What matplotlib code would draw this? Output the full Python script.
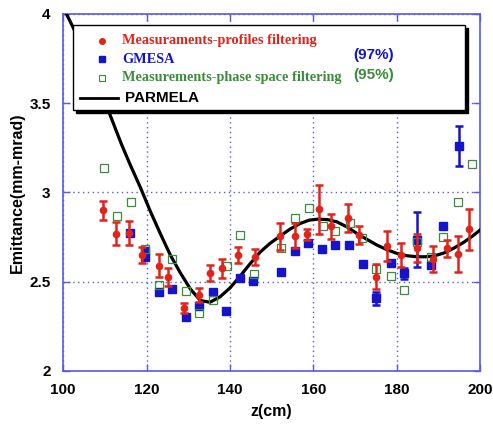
import numpy as np
import matplotlib.pyplot as plt
from matplotlib.patches import Rectangle

# profiles filtering (red, with error bars)
z_prof = [109.5, 112.7, 115.8, 119.0, 122.9, 125.1, 128.9, 132.5, 135.3, 138.0,
          141.9, 146.1, 152.1, 155.5, 158.4, 161.4, 164.3, 168.3, 171.0, 175.0,
          177.7, 181.1, 184.8, 188.7, 192.0, 194.6, 197.2]
e_prof = [2.90, 2.77, 2.775, 2.648, 2.59, 2.525, 2.353, 2.424, 2.549, 2.575,
          2.65, 2.637, 2.755, 2.758, 2.766, 2.906, 2.812, 2.857, 2.764, 2.527,
          2.70, 2.65, 2.69, 2.629, 2.687, 2.654, 2.794]
err_prof = [0.055, 0.062, 0.068, 0.045, 0.065, 0.05, 0.03, 0.04, 0.045, 0.055,
            0.045, 0.045, 0.075, 0.07, 0.03, 0.137, 0.07, 0.078, 0.05, 0.07,
            0.085, 0.065, 0.08, 0.072, 0.047, 0.10, 0.114]

# GMESA (blue squares)
z_gm = [116.1, 119.6, 119.6, 122.9, 126.1, 129.4, 132.5, 135.9, 139.0, 142.5,
        145.6, 152.2, 155.5, 158.8, 162.0, 165.2, 168.5, 172.0, 175.1, 178.6,
        181.8, 184.8, 188.2, 191.2, 194.9]
e_gm = [2.771, 2.67, 2.64, 2.44, 2.458, 2.30, 2.364, 2.443, 2.338, 2.519,
        2.502, 2.556, 2.672, 2.719, 2.682, 2.704, 2.704, 2.60, 2.407, 2.607,
        2.547, 2.734, 2.594, 2.812, 3.26]
err_gm = [0, 0, 0, 0, 0, 0, 0, 0, 0, 0,
          0, 0, 0, 0, 0, 0, 0, 0, 0.035, 0,
          0.03, 0.154, 0, 0, 0.114]

# phase space filtering (green open squares)
z_ps = [109.7, 113.0, 116.2, 119.7, 123.1, 126.2, 129.5, 132.7, 136.0, 139.3,
        142.5, 145.8, 152.2, 155.5, 158.9, 162.3, 165.3, 168.7, 171.7, 175.0,
        178.7, 181.8, 184.8, 188.2, 191.2, 194.7, 198.1]
e_ps = [3.135, 2.868, 2.949, 2.685, 2.483, 2.629, 2.447, 2.327, 2.40, 2.587,
        2.764, 2.542, 2.687, 2.857, 2.911, 2.812, 2.784, 2.827, 2.743, 2.573,
        2.532, 2.454, 2.723, 2.64, 2.752, 2.945, 3.161]

# PARMELA simulation
z_sim = [100.8, 102.5, 105.0, 108.0, 111.0, 114.0, 116.0, 118.5, 121.0, 123.3,
         125.7, 128.1, 130.5, 132.9, 135.2, 137.6, 140.0, 142.4, 144.8, 147.2,
         149.6, 152.0, 154.4, 156.8, 159.0, 161.2, 163.4, 165.6, 168.0, 170.4,
         172.8, 175.2, 177.6, 180.0, 182.4, 184.8, 186.8, 188.8, 191.2, 193.6,
         196.0, 198.4, 200.0]
e_sim = [4.00, 3.92, 3.78, 3.62, 3.45, 3.27, 3.16, 3.03, 2.89, 2.77,
         2.65, 2.55, 2.46, 2.395, 2.385, 2.415, 2.465, 2.53, 2.60, 2.665,
         2.715, 2.755, 2.795, 2.826, 2.845, 2.851, 2.848, 2.836, 2.808, 2.771,
         2.738, 2.706, 2.68, 2.659, 2.646, 2.64, 2.64, 2.644, 2.66, 2.687,
         2.72, 2.76, 2.79]

RED = '#e2231a'
BLUE = '#1414cc'
GREEN = '#3c8c3c'
AXC = '#5a5ae0'

plt.rcParams['font.family'] = ['Liberation Sans', 'DejaVu Sans']
plt.rcParams['font.weight'] = 'bold'

fig = plt.figure(figsize=(4.93, 4.24), dpi=100)
ax = fig.add_axes([0.128, 0.125, 0.846, 0.842])

ax.plot(z_sim, e_sim, color='black', lw=2.3, zorder=3)

ax.errorbar(z_prof, e_prof, yerr=err_prof, fmt='o', color=RED, ms=4.5,
            elinewidth=1.8, capsize=3, capthick=1.8, zorder=5)

err_gm = np.array(err_gm)
has_err = err_gm > 0
ax.errorbar(np.array(z_gm)[has_err], np.array(e_gm)[has_err], yerr=err_gm[has_err],
            fmt='none', ecolor=BLUE, elinewidth=1.8, capsize=3, capthick=1.8, zorder=4)
ax.plot(z_gm, e_gm, 's', color=BLUE, ms=5.5, zorder=4)

ax.plot(z_ps, e_ps, 's', mfc='none', mec=GREEN, mew=0.9, ms=5.5, zorder=4)

ax.set_xlim(100, 200)
ax.set_ylim(2, 4)
ax.set_xticks([100, 120, 140, 160, 180, 200])
ax.set_yticks([2, 2.5, 3, 3.5, 4])
ax.set_yticklabels(['2', '2.5', '3', '3.5', '4'])
ax.tick_params(direction='in', length=5, width=1, color=AXC, labelsize=11,
               top=True, right=True, pad=9)
for s in ax.spines.values():
    s.set_color(AXC)
    s.set_linewidth(1.2)
ax.grid(True, color=AXC, ls=(0, (1, 2.5)), lw=1)
ax.set_axisbelow(True)

ax.set_xlabel('z(cm)', fontsize=11.5, fontweight='bold', labelpad=5)
ax.set_ylabel('Emittance(mm-mrad)', fontsize=11.5, fontweight='bold', labelpad=3)

# legend box with drop shadow
lx0, ly0, lw, lh = 0.024, 0.731, 0.940, 0.238
ax.add_patch(Rectangle((lx0 + 0.007, ly0 - 0.008), lw, lh, transform=ax.transAxes,
                       facecolor='black', edgecolor='black', zorder=8))
ax.add_patch(Rectangle((lx0, ly0), lw, lh, transform=ax.transAxes,
                       facecolor='white', edgecolor='black', lw=1, zorder=9))

serif = ['Liberation Serif', 'DejaVu Serif']
ax.plot([0.094], [0.925], 'o', color=RED, ms=4, transform=ax.transAxes, zorder=10, clip_on=False)
ax.text(0.141, 0.925, 'Measuraments-profiles filtering', color=RED, family=serif,
        fontsize=10.3, fontweight='bold', va='center', transform=ax.transAxes, zorder=10)
ax.plot([0.094], [0.873], 's', color=BLUE, ms=4.5, transform=ax.transAxes, zorder=10, clip_on=False)
ax.text(0.141, 0.873, 'GMESA', color=BLUE, family=serif,
        fontsize=10.3, fontweight='bold', va='center', transform=ax.transAxes, zorder=10)
ax.plot([0.094], [0.822], 's', mfc='none', mec=GREEN, mew=0.8, ms=4.5,
        transform=ax.transAxes, zorder=10, clip_on=False)
ax.text(0.141, 0.822, 'Measurements-phase space filtering', color=GREEN, family=serif,
        fontsize=10.3, fontweight='bold', va='center', transform=ax.transAxes, zorder=10)
ax.text(0.696, 0.885, '(97%)', color=BLUE, fontsize=11, fontweight='bold',
        va='center', transform=ax.transAxes, zorder=10)
ax.text(0.696, 0.830, '(95%)', color=GREEN, fontsize=11, fontweight='bold',
        va='center', transform=ax.transAxes, zorder=10)
ax.plot([0.041, 0.132], [0.765, 0.765], color='black', lw=2, transform=ax.transAxes, zorder=10)
ax.text(0.149, 0.765, 'PARMELA', color='black', fontsize=11, fontweight='bold',
        va='center', transform=ax.transAxes, zorder=10)

fig.savefig('out.png', dpi=100)
